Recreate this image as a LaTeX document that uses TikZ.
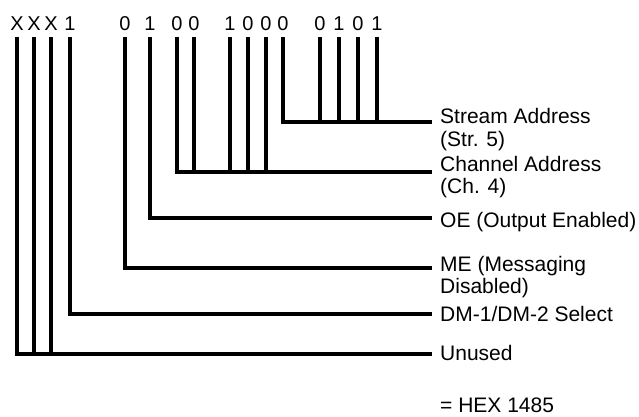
\documentclass[tikz,border=0pt]{standalone}
\usepackage{fontspec}
\setmainfont{Liberation Sans}
\usetikzlibrary{positioning}

\begin{document}
\begin{tikzpicture}[x=1pt, y=-1pt,
  bit/.style={font=\fontsize{20}{22}\selectfont, anchor=base, inner xsep=0pt, inner ysep=6pt},
  lbl/.style={font=\fontsize{21}{22}\selectfont, anchor=base west, align=left, inner sep=0pt},
  wire/.style={line width=3.2pt},
]
\useasboundingbox (0,0) rectangle (639,417);

% Bits 15..0 over their wires
\foreach \n/\x/\t in {15/17/X, 14/34/X, 13/51/X, 12/70/1,
                      11/125/0, 10/150/1, 9/177/0, 8/194/0,
                      7/230/1, 6/248/0, 5/266/0, 4/283/0,
                      3/320/0, 2/339/1, 1/358/0, 0/377/1}
  \node[bit] (b\n) at (\x,31) {\t};

% Ends of the field lines
\coordinate (stream) at (432,122);
\coordinate (chan)   at (432,172);
\coordinate (oe)     at (432,218);
\coordinate (me)     at (432,268);
\coordinate (dm)     at (432,314);
\coordinate (unused) at (432,354);

% Field labels (base = last line)
\node[lbl] (lstream) at (440,146) {Stream Address\\(Str. 5)};
\node[lbl] (lchan)   at (440,193) {Channel Address\\(Ch. 4)};
\node[lbl] (loe)     at (440,227) {OE (Output Enabled)};
\node[lbl] (lme)     at (440,293) {ME (Messaging\\Disabled)};
\node[lbl] (ldm)     at (440,321) {DM-1/DM-2 Select};
\node[lbl] (lunused) at (440,360) {Unused};
\node[lbl] (hex)     at (440,412) {= HEX 1485};

% Wires
\draw[wire] (b4.south) |- (stream);
\foreach \n in {3,2,1,0}
  \draw[wire] (b\n.south) -- (b\n.south |- stream);
\draw[wire] (b9.south) |- (chan);
\foreach \n in {8,7,6,5}
  \draw[wire] (b\n.south) -- (b\n.south |- chan);
\draw[wire] (b10.south) |- (oe);
\draw[wire] (b11.south) |- (me);
\draw[wire] (b12.south) |- (dm);
\draw[wire] (b15.south) |- (unused);
\foreach \n in {14,13}
  \draw[wire] (b\n.south) -- (b\n.south |- unused);

\end{tikzpicture}
\end{document}
